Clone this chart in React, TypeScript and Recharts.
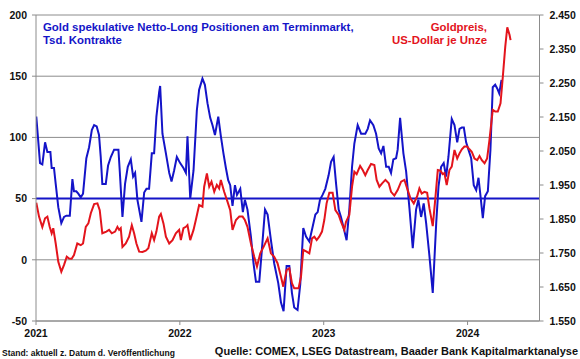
import React from 'react';
import { LineChart, Line, XAxis, YAxis, CartesianGrid, ReferenceLine } from 'recharts';

// Gold speculative net-long positions (thousand contracts), COMEX
const positionDates = [
  2021.002, 2021.028, 2021.044, 2021.063, 2021.079, 2021.100, 2021.109, 2021.125, 2021.137, 2021.155,
  2021.176, 2021.195, 2021.211, 2021.235, 2021.253, 2021.264, 2021.280, 2021.294, 2021.311, 2021.327,
  2021.350, 2021.369, 2021.388, 2021.404, 2021.422, 2021.438, 2021.450, 2021.461, 2021.485, 2021.501,
  2021.520, 2021.543, 2021.573, 2021.582, 2021.601, 2021.619, 2021.638, 2021.659, 2021.675, 2021.689,
  2021.705, 2021.733, 2021.752, 2021.768, 2021.786, 2021.805, 2021.821, 2021.837, 2021.856, 2021.863,
  2021.879, 2021.903, 2021.926, 2021.942, 2021.960, 2021.979, 2022.002, 2022.025, 2022.042, 2022.053,
  2022.072, 2022.095, 2022.118, 2022.134, 2022.157, 2022.174, 2022.192, 2022.211, 2022.227, 2022.244,
  2022.267, 2022.285, 2022.303, 2022.320, 2022.336, 2022.350, 2022.366, 2022.383, 2022.397, 2022.420,
  2022.438, 2022.452, 2022.470, 2022.494, 2022.512, 2022.529, 2022.552, 2022.568, 2022.592, 2022.610,
  2022.633, 2022.656, 2022.684, 2022.703, 2022.721, 2022.742, 2022.761, 2022.779, 2022.795, 2022.818,
  2022.837, 2022.858, 2022.877, 2022.900, 2022.923, 2022.942, 2022.958, 2022.974, 2022.992, 2023.011,
  2023.034, 2023.051, 2023.069, 2023.086, 2023.104, 2023.120, 2023.143, 2023.159, 2023.178, 2023.197,
  2023.213, 2023.236, 2023.260, 2023.289, 2023.306, 2023.322, 2023.345, 2023.364, 2023.382, 2023.399,
  2023.415, 2023.434, 2023.452, 2023.468, 2023.484, 2023.503, 2023.514, 2023.531, 2023.554, 2023.573,
  2023.596, 2023.619, 2023.642, 2023.658, 2023.677, 2023.695, 2023.712, 2023.735, 2023.758, 2023.782,
  2023.798, 2023.816, 2023.834, 2023.851, 2023.867, 2023.890, 2023.909, 2023.928, 2023.944, 2023.960,
  2023.974, 2023.990, 2024.006, 2024.025, 2024.043, 2024.060, 2024.076, 2024.090, 2024.106, 2024.122,
  2024.141, 2024.159, 2024.175, 2024.192, 2024.206, 2024.220, 2024.236,
];
const positionValues = [
  117, 79, 78, 96, 88, 88, 75, 75, 62, 43,
  30, 35, 36, 36, 66, 56, 56, 54, 51, 54,
  83, 92, 106, 110, 109, 102, 84, 62, 62, 77,
  84, 90, 90, 73, 35, 62, 76, 82, 68, 71,
  49, 31, 55, 58, 58, 87, 87, 117, 137, 142,
  103, 87, 71, 64, 73, 84, 79, 75, 71, 101,
  50, 73, 122, 139, 148, 143, 128, 116, 110, 102,
  117, 101, 87, 75, 65, 61, 44, 61, 53, 58,
  39, 49, 41, 19, -3, -18, -18, 5, 41, 37,
  16, -3, -19, -35, -42, -5, -5, -27, -39, -41,
  -20, 26, 19, 15, 27, 37, 39, 49, 53, 58,
  69, 80, 84, 62, 41, 35, 24, 16, 41, 76,
  95, 110, 103, 103, 107, 114, 110, 103, 91, 87,
  93, 76, 76, 71, 82, 83, 90, 116, 87, 72,
  42, 9.5, 41, 49, 35, 46, 30, 3, -27, 30,
  60, 76, 79, 68, 84, 115, 110, 96, 107, 108,
  108, 96, 90, 83, 61, 57, 67, 52, 34, 52,
  56, 90, 141, 143, 140, 136, 147,
];

// Gold price, USD per ounce
const priceDates = [
  2021.002, 2021.021, 2021.044, 2021.063, 2021.079, 2021.095, 2021.109, 2021.120, 2021.137, 2021.155,
  2021.176, 2021.195, 2021.214, 2021.230, 2021.248, 2021.264, 2021.287, 2021.311, 2021.327, 2021.346,
  2021.364, 2021.381, 2021.404, 2021.427, 2021.443, 2021.461, 2021.489, 2021.508, 2021.527, 2021.550,
  2021.566, 2021.578, 2021.589, 2021.601, 2021.624, 2021.647, 2021.666, 2021.682, 2021.698, 2021.717,
  2021.740, 2021.763, 2021.781, 2021.805, 2021.821, 2021.837, 2021.856, 2021.868, 2021.886, 2021.903,
  2021.926, 2021.949, 2021.972, 2021.995, 2022.007, 2022.025, 2022.042, 2022.053, 2022.072, 2022.095,
  2022.111, 2022.134, 2022.157, 2022.169, 2022.188, 2022.204, 2022.220, 2022.239, 2022.257, 2022.273,
  2022.285, 2022.308, 2022.331, 2022.350, 2022.366, 2022.390, 2022.413, 2022.436, 2022.452, 2022.470,
  2022.494, 2022.517, 2022.536, 2022.559, 2022.582, 2022.610, 2022.633, 2022.656, 2022.679, 2022.703,
  2022.719, 2022.742, 2022.761, 2022.779, 2022.795, 2022.825, 2022.842, 2022.858, 2022.881, 2022.900,
  2022.919, 2022.935, 2022.951, 2022.969, 2022.988, 2023.004, 2023.020, 2023.039, 2023.062, 2023.081,
  2023.104, 2023.120, 2023.143, 2023.155, 2023.178, 2023.197, 2023.213, 2023.229, 2023.253, 2023.271,
  2023.289, 2023.306, 2023.329, 2023.352, 2023.368, 2023.387, 2023.406, 2023.429, 2023.452, 2023.468,
  2023.491, 2023.514, 2023.538, 2023.561, 2023.584, 2023.603, 2023.626, 2023.649, 2023.665, 2023.681,
  2023.700, 2023.719, 2023.735, 2023.758, 2023.775, 2023.793, 2023.811, 2023.827, 2023.839, 2023.855,
  2023.874, 2023.890, 2023.909, 2023.928, 2023.944, 2023.960, 2023.978, 2023.997, 2024.013, 2024.029,
  2024.048, 2024.067, 2024.083, 2024.099, 2024.118, 2024.136, 2024.152, 2024.175, 2024.192, 2024.210,
  2024.229, 2024.245, 2024.262, 2024.276, 2024.292, 2024.299,
];
const priceValues = [
  1898, 1857, 1826, 1852, 1857, 1827, 1808, 1823, 1778, 1724,
  1695, 1715, 1739, 1734, 1733, 1744, 1778, 1773, 1778, 1827,
  1837, 1867, 1894, 1896, 1876, 1808, 1813, 1818, 1808, 1813,
  1827, 1818, 1823, 1768, 1778, 1798, 1832, 1808, 1778, 1754,
  1753, 1757, 1764, 1808, 1788, 1813, 1857, 1865, 1837, 1798,
  1778, 1788, 1808, 1818, 1788, 1823, 1827, 1832, 1788, 1818,
  1847, 1891, 1886, 1945, 1984, 1945, 1960, 1930, 1950, 1940,
  1965, 1930, 1901, 1876, 1818, 1847, 1857, 1857, 1847, 1827,
  1778, 1739, 1710, 1749, 1768, 1793, 1749, 1739, 1720, 1680,
  1651, 1700, 1705, 1661, 1646, 1646, 1680, 1759, 1754, 1749,
  1793, 1798, 1788, 1798, 1813, 1847, 1896, 1927, 1927, 1876,
  1862, 1842, 1818, 1842, 1862, 1945, 1989, 1982, 2006, 1994,
  1979, 1994, 2012, 2009, 1965, 1945, 1955, 1965, 1955, 1930,
  1919, 1935, 1960, 1965, 1935, 1911, 1896, 1916, 1940, 1925,
  1930, 1927, 1881, 1829, 1906, 1994, 1992, 1982, 1985, 1950,
  1994, 2004, 2053, 2028, 2043, 2055, 2063, 2063, 2055, 2048,
  2028, 2023, 2035, 2023, 2014, 2028, 2082, 2171, 2166, 2166,
  2190, 2268, 2357, 2414, 2391, 2376,
];

const leftTicks = [-50, 0, 50, 100, 150, 200];
const rightTicks = [1550, 1650, 1750, 1850, 1950, 2050, 2150, 2250, 2350, 2450];
const yearTicks = [2021, 2022, 2023, 2024];

const titleLeft = ['Gold spekulative Netto-Long Positionen am Terminmarkt,', 'Tsd. Kontrakte'];
const titleRight = ['Goldpreis,', 'US-Dollar je Unze'];
const footerLeft = 'Stand: aktuell z. Datum d. Veröffentlichung';
const footerRight = 'Quelle: COMEX, LSEG Datastream, Baader Bank Kapitalmarktanalyse';

const positions = positionDates.map((x, i) => ({ x, v: positionValues[i] }));
const prices = priceDates.map((x, i) => ({ x, p: priceValues[i] }));

const FONT = '"Liberation Sans", Arial, sans-serif';
const BLUE = '#1414c8';
const RED = '#e3141c';
const GRAY = '#8c8c8c';

const fmtPrice = (v: number) => String(v).replace(/\B(?=(\d{3})+(?!\d))/g, '.');

export default function App() {
  const tickStyle = { fill: '#111', fontSize: 10.5, fontWeight: 700, fontFamily: FONT };
  return (
    <div style={{ position: 'absolute', left: 0, top: 0, width: 580, height: 359, background: '#fff', fontFamily: FONT, overflow: 'hidden' }}>
      <LineChart width={580} height={359} margin={{ top: 15, right: 0, bottom: 18, left: 0 }}>
        <CartesianGrid vertical={false} stroke={GRAY} strokeWidth={1} />
        <XAxis
          dataKey="x"
          type="number"
          domain={[2021, 2024.5]}
          ticks={yearTicks}
          allowDataOverflow
          stroke={GRAY}
          tick={tickStyle}
          tickSize={4}
          tickMargin={5}
          height={20}
        />
        <YAxis
          domain={[-50, 200]}
          ticks={leftTicks}
          width={36}
          stroke={GRAY}
          tick={tickStyle}
          tickSize={4}
          tickMargin={5}
          allowDataOverflow
        />
        <YAxis
          yAxisId="right"
          orientation="right"
          domain={[1550, 2450]}
          ticks={rightTicks}
          width={40.5}
          stroke={GRAY}
          tick={tickStyle}
          tickSize={4}
          tickMargin={6}
          tickFormatter={fmtPrice}
          allowDataOverflow
        />
        <ReferenceLine y={50} stroke={BLUE} strokeWidth={2} ifOverflow="extendDomain" />
        <Line
          data={positions}
          dataKey="v"
          stroke={BLUE}
          strokeWidth={2}
          dot={false}
          isAnimationActive={false}
          type="linear"
        />
        <Line
          yAxisId="right"
          data={prices}
          dataKey="p"
          stroke={RED}
          strokeWidth={2}
          dot={false}
          isAnimationActive={false}
          type="linear"
        />
      </LineChart>
      <div style={{ position: 'absolute', left: 43, top: 20.5, fontSize: 11.4, lineHeight: '13px', fontWeight: 700, color: BLUE, whiteSpace: 'nowrap' }}>
        {titleLeft.map((t) => (<div key={t}>{t}</div>))}
      </div>
      <div style={{ position: 'absolute', right: 93, top: 20.5, fontSize: 11.4, lineHeight: '13px', fontWeight: 700, color: RED, textAlign: 'right', whiteSpace: 'nowrap' }}>
        {titleRight.map((t) => (<div key={t}>{t}</div>))}
      </div>
      <div style={{ position: 'absolute', left: 2, top: 347.5, fontSize: 8.5, lineHeight: '10px', fontWeight: 700, color: '#111', whiteSpace: 'nowrap' }}>
        {footerLeft}
      </div>
      <div style={{ position: 'absolute', right: 2, top: 345, fontSize: 11, lineHeight: '13px', fontWeight: 700, color: '#111', whiteSpace: 'nowrap' }}>
        {footerRight}
      </div>
    </div>
  );
}
